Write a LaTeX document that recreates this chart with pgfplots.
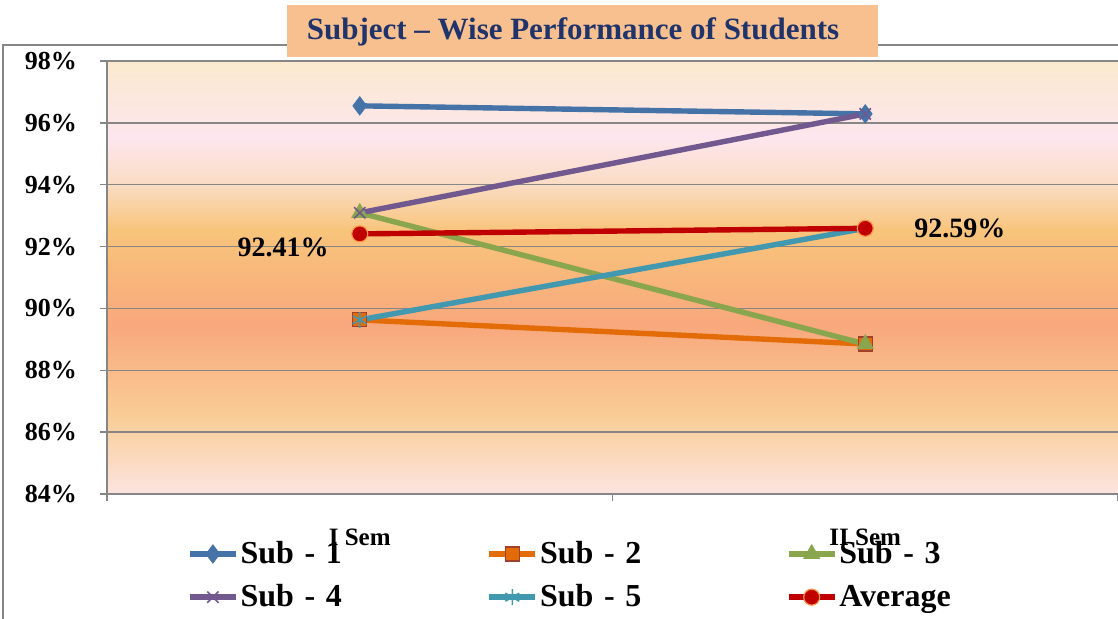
\documentclass[border=0pt]{standalone}
\usepackage{fontspec}
\setmainfont{Liberation Serif}
\usepackage{pgfplots}
\pgfplotsset{compat=1.18}

\definecolor{gridgray}{RGB}{134,134,134}
\definecolor{titlefill}{RGB}{249,192,143}
\definecolor{titlenavy}{RGB}{31,52,107}
\definecolor{s1}{RGB}{69,114,167}
\definecolor{s2}{RGB}{227,108,9}
\definecolor{s2edge}{RGB}{160,65,43}
\definecolor{s3}{RGB}{137,165,78}
\definecolor{s4}{RGB}{113,88,143}
\definecolor{s5}{RGB}{65,152,175}
\definecolor{avg}{RGB}{192,0,0}
\definecolor{avgedge}{RGB}{247,150,70}

\definecolor{bgA}{RGB}{252,228,225}
\definecolor{bgB}{RGB}{249,205,150}
\definecolor{bgC}{RGB}{248,168,124}
\definecolor{bgD}{RGB}{248,196,123}
\definecolor{bgE}{RGB}{250,220,195}
\definecolor{bgF}{RGB}{253,230,238}
\definecolor{bgG}{RGB}{251,233,206}

\pgfdeclareverticalshading{plotbg}{100bp}{color(0bp)=(bgA); color(25bp)=(bgA);
  color(33.9bp)=(bgB); color(44.6bp)=(bgC); color(55.4bp)=(bgD);
  color(60.7bp)=(bgE); color(66.1bp)=(bgF); color(75bp)=(bgG); color(100bp)=(bgG)}

\begin{document}
\begin{tikzpicture}
\useasboundingbox (-53.5pt,-62.5pt) rectangle (505.5pt,247pt);
\draw[gridgray, line width=0.75pt] (-52pt,-80pt) rectangle (530pt,224.5pt);
\begin{axis}[
    at={(0,0)}, anchor=south west,
    width=505.5pt, height=216.5pt, scale only axis,
    xmin=0, xmax=2, ymin=84, ymax=98,
    axis lines*=left,
    axis line style={gridgray, line width=0.75pt},
    axis background/.style={shading=plotbg},
    tick align=outside, major tick length=3.5pt,
    tick style={gridgray, line width=0.75pt},
    ytick={84,86,...,98},
    yticklabels={84\%,86\%,88\%,90\%,92\%,94\%,96\%,98\%},
    yticklabel style={font=\fontsize{13}{15}\selectfont\bfseries, xshift=-8pt},
    xtick={0,1,2}, xticklabels={,,},
    xticklabel style={font=\fontsize{12.5}{14}\selectfont\bfseries, yshift=-14pt},
    extra x ticks={0.5,1.5},
    extra x tick labels={I Sem, II Sem},
    extra x tick style={major tick length=0pt},
    ymajorgrids, grid style={gridgray, line width=0.75pt},
    legend columns=3,
    legend style={at={(axis description cs:0.073,-0.09)}, anchor=north west,
        draw=none, fill=none, font=\fontsize{16}{18}\selectfont\bfseries,
        nodes={text width=122pt, align=left, inner xsep=1pt},
        row sep=5pt,
        /tikz/every even column/.append style={column sep=0pt}},
    legend image code/.code={\draw[mark repeat=2,mark phase=2]
        plot coordinates {(0pt,0pt) (11.5pt,0pt) (23pt,0pt)};},
]
\addplot[s1, line width=2.7pt, mark=diamond*, mark size=4.5pt,
    mark options={line width=0.5pt, fill=s1}]
    coordinates {(0.5,96.55) (1.5,96.29)};
\addlegendentry{Sub - 1}
\addplot[s2, line width=2.7pt, mark=square*, mark size=3.5pt,
    mark options={line width=0.6pt, draw=s2edge, fill=s2}]
    coordinates {(0.5,89.63) (1.5,88.85)};
\addlegendentry{Sub - 2}
\addplot[s3, line width=2.7pt, mark=triangle*, mark size=4.5pt,
    mark options={line width=0.5pt, fill=s3}]
    coordinates {(0.5,93.09) (1.5,88.85)};
\addlegendentry{Sub - 3}
\addplot[s4, line width=2.7pt, mark=x, mark size=4pt,
    mark options={line width=0.8pt}]
    coordinates {(0.5,93.09) (1.5,96.29)};
\addlegendentry{Sub - 4}
\addplot[s5, line width=2.7pt, mark=asterisk, mark size=4pt,
    mark options={line width=0.8pt}]
    coordinates {(0.5,89.63) (1.5,92.59)};
\addlegendentry{Sub - 5}
\addplot[avg, line width=2.7pt, mark=*, mark size=4pt,
    mark options={line width=0.6pt, draw=avgedge, fill=avg}]
    coordinates {(0.5,92.41) (1.5,92.59)};
\addlegendentry{Average}
\node[font=\fontsize{14}{16}\selectfont\bfseries, anchor=east]
    at (axis cs:0.5,92.41) [xshift=-12pt, yshift=-7pt] {92.41\%};
\node[font=\fontsize{14}{16}\selectfont\bfseries, anchor=west]
    at (axis cs:1.5,92.59) [xshift=21pt] {92.59\%};
\end{axis}
\fill[titlefill] (90pt,218.5pt) rectangle (385.5pt,244.5pt);
\node[font=\fontsize{15.5}{17}\selectfont\bfseries, text=titlenavy]
    at (233pt,231pt) {Subject – Wise Performance of Students};
\end{tikzpicture}
\end{document}
